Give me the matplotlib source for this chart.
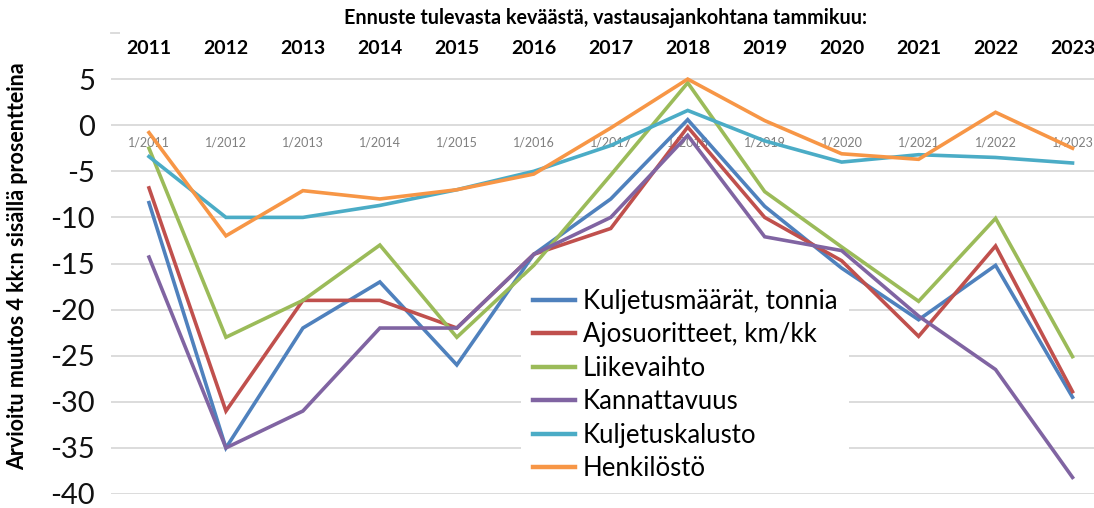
import matplotlib
matplotlib.use("Agg")
import matplotlib.pyplot as plt
from matplotlib.patches import Rectangle

# Data
years = [2011, 2012, 2013, 2014, 2015, 2016, 2017, 2018, 2019, 2020, 2021, 2022, 2023]
cat_labels = [f"1/{y}" for y in years]

kuljetusmaarat = [-8.4, -35, -22, -17, -26, -14, -8, 0.6, -8.8, -15.5, -21.1, -15.2, -29.5]
ajosuoritteet = [-6.8, -31, -19, -19, -22, -14, -11.2, -0.2, -10, -14.7, -22.9, -13.1, -28.9]
liikevaihto = [-2.5, -23, -19, -13, -23, -15.2, -5.4, 4.6, -7.2, -13.2, -19.1, -10.1, -25.1]
kannattavuus = [-14.3, -35, -31, -22, -22, -14, -10, -1.1, -12.1, -13.6, -20.7, -26.5, -38.2]
kuljetuskalusto = [-3.4, -10, -10, -8.7, -7, -5, -2.2, 1.6, -1.7, -4, -3.2, -3.5, -4.1]
henkilosto = [-0.8, -12, -7.1, -8, -7, -5.3, -0.3, 5, 0.5, -3.1, -3.7, 1.4, -2.5]

series = [
    ("Kuljetusmäärät, tonnia", kuljetusmaarat, "#4F81BD"),
    ("Ajosuoritteet, km/kk", ajosuoritteet, "#C0504D"),
    ("Liikevaihto", liikevaihto, "#9BBB59"),
    ("Kannattavuus", kannattavuus, "#8064A2"),
    ("Kuljetuskalusto", kuljetuskalusto, "#4BACC6"),
    ("Henkilöstö", henkilosto, "#F79646"),
]

plt.rcParams['font.family'] = ['Lato', 'DejaVu Sans']

W, H = 1094, 508
fig = plt.figure(figsize=(W / 100, H / 100), dpi=100)
ax = fig.add_axes([110.5 / W, (H - 494) / H, 1000.5 / W, 461 / H])

x = list(range(len(years)))
for name, vals, col in series:
    ax.plot(x, vals, color=col, lw=2.6, label=name, solid_joinstyle='miter', zorder=3)

ax.set_xlim(-0.5, len(years) - 0.5)
ax.set_ylim(-40, 10)
ax.set_yticks(range(-40, 10, 5))
ax.set_yticklabels([str(v) for v in range(-40, 10, 5)], fontsize=21, color='#111111')
ax.tick_params(axis='y', length=0, pad=11)
ax.set_xticks([])
ax.grid(axis='y', color='#D9D9D9', lw=1.3, zorder=0)
ax.axhline(10, color='#D9D9D9', lw=1.3, clip_on=False, zorder=0)
for s in ax.spines.values():
    s.set_visible(False)

# category labels just below the zero line
for i, lab in enumerate(cat_labels):
    ax.text(i, -1.9, lab, ha='center', va='center', fontsize=9, color='#7F7F7F', zorder=2)

# white block behind the top header (hides the 10 gridline)
fig.patches.append(Rectangle((120 / W, (H - 62) / H), (W - 120) / W, 60 / H,
                             transform=fig.transFigure, facecolor='white', edgecolor='none'))

fig.text(605 / W, (H - 18) / H, "Ennuste tulevasta keväästä, vastausajankohtana tammikuu:",
         ha='center', va='center', fontsize=14.2, fontweight='bold')
for i, y in enumerate(years):
    xf = ax.transData.transform((i, 0))[0] / W
    fig.text(xf, (H - 48) / H, str(y), ha='center', va='center', fontsize=14, fontweight='bold')

fig.text(18 / W, (H - 266) / H, "Arvioitu muutos 4 kk:n sisällä prosentteina",
         rotation=90, ha='center', va='center', fontsize=15.5, fontweight='bold')

leg = ax.legend(loc='center left', bbox_to_anchor=(521 / W, (H - 385) / H),
                bbox_transform=fig.transFigure, frameon=True, fontsize=18.5,
                handlelength=1.65, handletextpad=0.31, labelspacing=0.33,
                borderpad=0.45, borderaxespad=0)
leg.get_frame().set_edgecolor('none')
leg.get_frame().set_facecolor('white')
leg.get_frame().set_alpha(1)
for h in leg.get_lines():
    h.set_linewidth(3.2)

fig.savefig("out.png", dpi=100)
